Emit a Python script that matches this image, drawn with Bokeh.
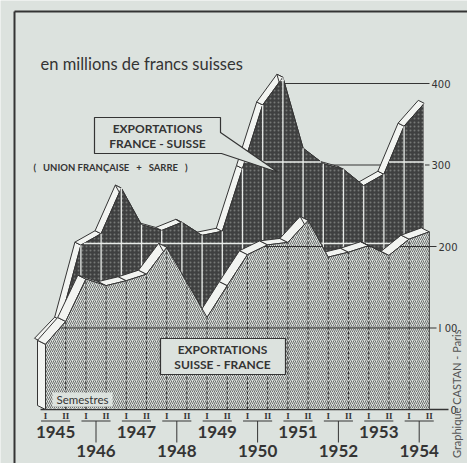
import numpy as np
from bokeh.plotting import figure
from bokeh.models import Range1d
from bokeh.embed import file_html
from bokeh.resources import INLINE
from bokeh.core.properties import value

# ---------------- data ----------------
years = [1945, 1946, 1947, 1948, 1949, 1950, 1951, 1952, 1953, 1954]
semesters = ["I", "II"]
# exports Suisse -> France (hatched, front), millions CHF, per semester
suisse_france = [80, 108, 160, 152, 158, 166, 199, 156, 113, 152,
                 190, 202, 205, 232, 187, 193, 201, 189, 209, 218]
# exports France -> Suisse (dark, back), millions CHF, per semester
france_suisse = [80, 106, 198, 212, 268, 223, 216, 226, 210, 215,
                 292, 370, 404, 317, 298, 291, 271, 285, 344, 372]
y_ticks = [0, 100, 200, 300, 400]
y_tick_labels = ["0", "I 00", "200", "300", "400"]
unit_label = "en millions de francs suisses"
label_fs = ["EXPORTATIONS", "FRANCE - SUISSE"]
NB = "\u00a0"
label_fs_sub = ("(" + NB * 3 + "UNION" + NB + "FRANÇAISE" + NB * 3 + "+" + NB * 3
                + "SARRE" + NB * 3 + ")")
label_sf = ["EXPORTATIONS", "SUISSE - FRANCE"]
semestres_label = "Semestres"
credit = "Graphique CASTAN - Paris"

# ---------------- layout helpers (reference pixel -> data) ----------------
PX0, PXS = 45.0, 20.2     # pixel of first semester, pixels per semester
PY0, PYS = 409.0, 0.815   # pixel of zero, pixels per unit


def X(px):
    return (px - PX0) / PXS


def Y(py):
    return (PY0 - py) / PYS


W, H = 467, 463
BG = "#dce2de"
INK = "#343434"
FONT = value("Lato")

p = figure(width=W, height=H, output_backend="svg", toolbar_location=None,
           x_range=Range1d(X(0), X(W)), y_range=Range1d(Y(H), Y(0)),
           x_axis_type=None, y_axis_type=None, min_border=0,
           background_fill_color=BG, border_fill_color=BG, outline_line_color=None)
p.xgrid.visible = False
p.ygrid.visible = False

n = len(suisse_france)
xs_h = np.arange(n, dtype=float)
ys_h = np.array(suisse_france, dtype=float)
DX, DY = -5 / PXS, 3 / PYS          # back series depth shift
OX, OY = -6 / PXS, 3 / PYS          # ribbon (3D top face) depth
xs_d = xs_h + DX
ys_d = np.array(france_suisse, dtype=float) + DY


def intervals(xs, ys, lev):
    res = []
    start = xs[0] if ys[0] > lev else None
    for i in range(len(xs) - 1):
        a, b = ys[i], ys[i + 1]
        if (a > lev) != (b > lev):
            t = (lev - a) / (b - a)
            xc = xs[i] + t * (xs[i + 1] - xs[i])
            if a > lev:
                res.append((start, xc))
                start = None
            else:
                start = xc
    if start is not None:
        res.append((start, xs[-1]))
    return res


def ribbons(xs, ys, ox, oy, side_face=False, base=0.0):
    px, py = [], []
    if side_face:
        px.append([xs[0], xs[0], xs[0] + ox, xs[0] + ox])
        py.append([base, ys[0], ys[0] + oy, base + oy])
    for i in range(len(xs) - 1):
        px.append([xs[i], xs[i + 1], xs[i + 1] + ox, xs[i] + ox])
        py.append([ys[i], ys[i + 1], ys[i + 1] + oy, ys[i] + oy])
    return px, py


# frame lines of the page
p.line([X(14), X(470)], [Y(11), Y(11)], line_color=INK, line_width=2)
p.line([X(14), X(14)], [Y(11), Y(470)], line_color=INK, line_width=2)

# background grid leaders from the peak to the right-hand scale
peak_x = xs_d[int(np.argmax(ys_d))]
tick_px = {0: 448, 100: 436, 200: 436, 300: 429, 400: 429}
for v in y_ticks[1:]:
    p.line([peak_x, X(tick_px[v])], [v, v], line_color=INK, line_width=1.2)
p.line([X(40), X(tick_px[0])], [0, 0], line_color=INK, line_width=1.5)

# ----- back series (France -> Suisse) -----
rx, ry = ribbons(xs_d, ys_d, OX, OY)
p.patches(rx, ry, fill_color="#f2f4f1", line_color=INK, line_width=1)
p.patch(list(xs_d) + [xs_d[-1], xs_d[0]], list(ys_d) + [DY, DY],
        fill_color="#3f4040", line_color=INK, line_width=1,
        hatch_pattern=".", hatch_color="#767876", hatch_scale=4, hatch_weight=1)
# white grid inside dark area
sx0, sy0, sx1, sy1 = [], [], [], []
for v in y_ticks[1:]:
    for a, b in intervals(xs_d, ys_d, v + DY):
        sx0.append(a); sx1.append(b); sy0.append(v + DY); sy1.append(v + DY)
for xi, yi in zip(xs_d, ys_d):
    sx0.append(xi); sx1.append(xi); sy0.append(DY); sy1.append(yi)
p.segment(sx0, sy0, sx1, sy1, line_color="#e8ebe8", line_width=1.3)

# ----- front series (Suisse -> France) -----
rx, ry = ribbons(xs_h, ys_h, -8 / PXS, 4 / PYS, side_face=True)
p.patches(rx, ry, fill_color="#f2f4f1", line_color=INK, line_width=1)
p.patch(list(xs_h) + [xs_h[-1], xs_h[0]], list(ys_h) + [0, 0],
        fill_color=BG, line_color=INK, line_width=1,
        hatch_pattern="/", hatch_color="#505050", hatch_scale=4, hatch_weight=0.8)
hx0, hy0, hx1, hy1 = [], [], [], []
for v in y_ticks[1:]:
    for a, b in intervals(xs_h, ys_h, v):
        hx0.append(a); hx1.append(b); hy0.append(v); hy1.append(v)
p.segment(hx0, hy0, hx1, hy1, line_color=INK, line_width=1.2)
p.segment(list(xs_h[1:-1]), [0] * (n - 2), list(xs_h[1:-1]), list(ys_h[1:-1]),
          line_color=INK, line_width=1.1, line_dash="3 2")

# ----- right-hand scale labels -----
p.text(x=[X(tick_px[v] + 2) for v in y_ticks], y=y_ticks, text=y_tick_labels,
       text_font=value("DejaVu Sans"), text_font_size="10px", text_color=INK,
       text_align="left", text_baseline="middle")

# ----- unit label -----
p.text(x=[X(40)], y=[Y(63)], text=[unit_label], text_font=FONT,
       text_font_size="16.5px", text_color=INK, text_align="left", text_baseline="middle")

# ----- callout box France -> Suisse -----
bx = [94, 220, 220, 278, 221, 94]
by = [117, 117, 132, 172, 153, 153]
p.patch([X(v) for v in bx], [Y(v) for v in by], fill_color=BG, line_color=INK, line_width=1.2)
p.text(x=[X(157), X(157)], y=[Y(128), Y(143)], text=label_fs, text_font=FONT,
       text_font_style="bold", text_font_size="12px", text_color=INK,
       text_align="center", text_baseline="middle")
p.text(x=[X(33)], y=[Y(167)], text=[label_fs_sub], text_font=FONT,
       text_font_style="bold", text_font_size="9.5px", text_color=INK,
       text_align="left", text_baseline="middle")

# ----- box Suisse -> France -----
p.patch([X(v) for v in [160, 285, 285, 160]], [Y(v) for v in [338, 338, 374, 374]],
        fill_color=BG, line_color=INK, line_width=1.2)
p.text(x=[X(222), X(222)], y=[Y(349), Y(364)], text=label_sf, text_font=FONT,
       text_font_style="bold", text_font_size="12px", text_color=INK,
       text_align="center", text_baseline="middle")

# ----- "Semestres" -----
p.patch([X(v) for v in [52, 112, 112, 52]], [Y(v) for v in [392, 392, 406, 406]],
        fill_color=BG, line_color=None)
p.text(x=[X(82)], y=[Y(399)], text=[semestres_label], text_font=FONT,
       text_font_size="11.5px", text_color=INK, text_align="center", text_baseline="middle")

# ----- semester & year labels -----
sem_x, sem_t = [], []
brx0, brx1, bry = [], [], []
yr_x, yr_y, yr_t = [], [], []
stem_x = []
for k, yr in enumerate(years):
    xa, xb = 2 * k, 2 * k + 1
    sem_x += [xa, xb]
    sem_t += semesters
    brx0.append(xa - 0.22); brx1.append(xb + 0.22); bry.append(Y(420.5))
    xm = (xa + xb) / 2
    yr_x.append(xm)
    yr_t.append(str(yr))
    if k % 2 == 0:
        yr_y.append(Y(431))
    else:
        yr_y.append(Y(450))
        stem_x.append(xm)
p.text(x=sem_x, y=[Y(415.5)] * len(sem_x), text=sem_t, text_font=value("Liberation Serif"),
       text_font_style="bold", text_font_size="9px", text_color=INK,
       text_align="center", text_baseline="middle")
p.segment(brx0, bry, brx1, bry, line_color=INK, line_width=1.2)
p.segment(stem_x, [Y(420.5)] * len(stem_x), stem_x, [Y(442)] * len(stem_x),
          line_color=INK, line_width=1)
p.text(x=yr_x, y=yr_y, text=yr_t, text_font=FONT, text_font_style="bold",
       text_font_size="17px", text_color=INK, text_align="center", text_baseline="middle")

# ----- credit -----
p.text(x=[X(456)], y=[Y(329)], text=[credit], angle=np.pi / 2, text_font=FONT,
       text_font_size="11px", text_color="#555555", text_align="right",
       text_baseline="middle")

open("out.html", "w").write(file_html(p, INLINE))
